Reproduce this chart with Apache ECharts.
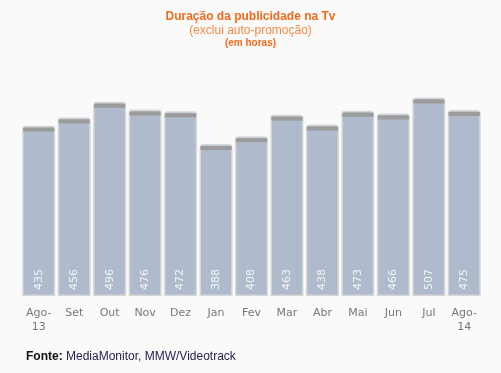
<!DOCTYPE html>
<html><head><meta charset="utf-8">
<script src="https://cdn.jsdelivr.net/npm/echarts@6/dist/echarts.min.js"></script>
<style>html,body{margin:0;padding:0;background:#fafafa;}#c{width:501px;height:373px;}</style>
</head><body><div id="c"></div>
<script>
const categories = ['Ago-\n13','Set','Out','Nov','Dez','Jan','Fev','Mar','Abr','Mai','Jun','Jul','Ago-\n14'];
const values = [435,456,496,476,472,388,408,463,438,473,466,507,475];
const titleText = 'Duração da publicidade na Tv';
const subtitleText = '(exclui auto-promoção)';
const unitText = '(em horas)';

const chart = echarts.init(document.getElementById('c'), null, {renderer:'canvas'});
chart.setOption({
  backgroundColor:'#fafafa',
  animation:false,
  title:[
    {text:titleText, left:'center', top:6, textStyle:{color:'#f26b1d', fontSize:12, fontWeight:'bold', fontFamily:'Liberation Sans'}},
    {text:subtitleText, left:'center', top:20, textStyle:{color:'#f28a45', fontSize:12, fontWeight:'normal', fontFamily:'Liberation Sans'}},
    {text:unitText, left:'center', top:33, textStyle:{color:'#f26b1d', fontSize:10, fontWeight:'bold', fontFamily:'Liberation Sans'}}
  ],
  graphic:[{type:'text', left:26, top:351, style:{rich:{b:{fontWeight:'bold',fill:'#111',fontSize:12,fontFamily:'Liberation Sans'},n:{fill:'#2a2050',fontSize:12,fontFamily:'Liberation Sans'}}, text:'{b|Fonte:} {n|MediaMonitor, MMW/Videotrack}'}}],
  grid:{left:21, right:19, top:61, bottom:77},
  xAxis:{type:'category', data:categories, axisLine:{show:false}, axisTick:{show:false},
    axisLabel:{color:'#777', fontSize:11, fontFamily:'DejaVu Sans', margin:10, lineHeight:14}},
  yAxis:{type:'value', min:0, max:600, show:false, splitLine:{show:false}},
  series:[
    {type:'bar', data:values, barCategoryGap:'7%',
     itemStyle:{color:'#afbbcc', borderColor:'#d6d6d6', borderWidth:1.5, borderRadius:[3,3,0,0]},
     label:{show:true, position:'insideBottom', rotate:90, align:'left', verticalAlign:'middle', distance:6,
       color:'#f4f4f4', fontSize:11, fontFamily:'DejaVu Sans'}},
    {type:'pictorialBar', data:values, symbol:'rect', symbolPosition:'end', symbolSize:['100%',4], symbolOffset:[0,'50%'],
     barCategoryGap:'12%', barGap:'-100%', itemStyle:{color:'#9c9c9c'}, z:3}
  ]
});
</script></body></html>
